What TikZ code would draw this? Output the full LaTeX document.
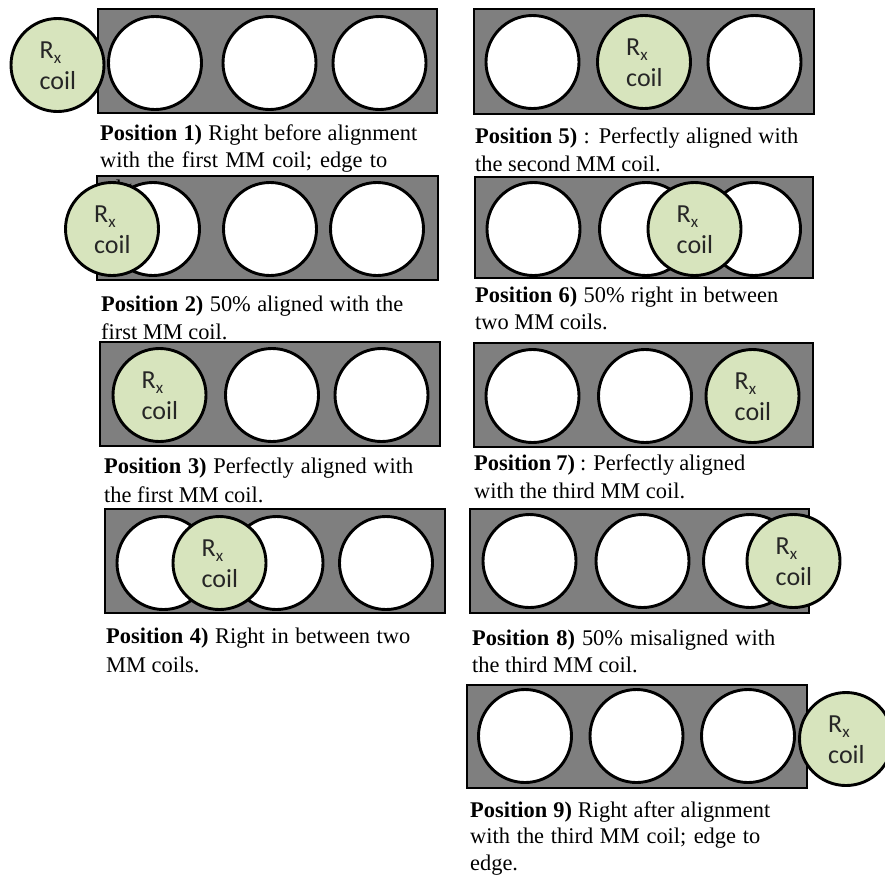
\documentclass[tikz,border=0pt]{standalone}
\usepackage{fontspec}
\setmainfont{Liberation Serif}
\newfontfamily\calib{Carlito}
\definecolor{rxgreen}{HTML}{D7E4BD}
\definecolor{panelgray}{HTML}{7F7F7F}
\newcommand\rxsub{\raisebox{-5pt}{\fontsize{17}{17}\selectfont x}}
\newcommand\mmcoil[2]{\draw[mmcoilst] (#1,#2) circle[radius=46.5pt];}
\newcommand\rxcoil[3]{\draw[rxcoilst] (#2,#3) circle[radius=46.5pt];
  \node[rxlabel] (#1r) at ({#2-18},{#3-7}) {R\rxsub};
  \node[rxlabel] (#1c) at ({#2-18},{#3+24}) {coil};}
\newcommand\panelbox[4]{\draw[panelst] (#1,#2) rectangle (#3,#4);}
\newcommand\jline[2]{\makebox[#1pt][s]{#2}}
\begin{document}
\begin{tikzpicture}[x=1pt,y=-1pt,
  panelst/.style={fill=panelgray,draw=black,line width=2.3pt},
  mmcoilst/.style={fill=white,draw=black,line width=2.9pt},
  rxcoilst/.style={fill=rxgreen,draw=black,line width=2.9pt},
  rxlabel/.style={anchor=base west,inner sep=0pt,text=black!85,font=\calib\fontsize{26}{30}\selectfont},
  captext/.style={anchor=base west,inner sep=0pt,font=\fontsize{22.4}{27}\selectfont}]
\useasboundingbox (0,0) rectangle (885,876);
\clip (0,0) rectangle (885,876);
% panels
\panelbox{98}{9}{437}{113}
\panelbox{97}{176}{438}{280}
\panelbox{100}{342}{440}{446}
\panelbox{105}{509}{445}{613}
\panelbox{474}{9}{814}{114}
\panelbox{475}{177}{813}{278}
\panelbox{474}{343}{813}{447}
\panelbox{470}{509}{809}{613}
\panelbox{467}{685}{807}{788}
% captions
\node[captext] (c1a) at (100,140) {\jline{317}{\textbf{Position 1)} Right before alignment}};
\node[captext] (c1b) at (100,167) {\jline{287}{with the first MM coil; edge to}};
\node[captext] (c1c) at (100,195) {edge.};
\node[captext] (c2a) at (101,311) {\jline{302}{\textbf{Position 2)} 50\% aligned with the}};
\node[captext] (c2b) at (101,339) {first MM coil.};
\node[captext] (c3a) at (104,473) {\jline{309}{\textbf{Position 3)} Perfectly aligned with}};
\node[captext] (c3b) at (104,502) {the first MM coil.};
\node[captext] (c4a) at (106,643) {\jline{304}{\textbf{Position 4)} Right in between two}};
\node[captext] (c4b) at (106,672) {MM coils.};
\node[captext] (c5a) at (475,143) {\jline{323}{\textbf{Position 5)} : Perfectly aligned with}};
\node[captext] (c5b) at (475,171) {the second MM coil.};
\node[captext] (c6a) at (475,302) {\jline{303}{\textbf{Position 6)} 50\% right in between}};
\node[captext] (c6b) at (475,329) {two MM coils.};
\node[captext] (c7a) at (474,470) {\jline{271}{\textbf{Position 7)} : Perfectly aligned}};
\node[captext] (c7b) at (474,498) {with the third MM coil.};
\node[captext] (c8a) at (472,645) {\jline{303}{\textbf{Position 8)} 50\% misaligned with}};
\node[captext] (c8b) at (472,672) {the third MM coil.};
\node[captext] (c9a) at (470,817) {\jline{300}{\textbf{Position 9)} Right after alignment}};
\node[captext] (c9b) at (470,843) {\jline{290}{with the third MM coil; edge to}};
\node[captext] (c9c) at (470,870) {edge.};
% panel 1
\mmcoil{155}{63}\mmcoil{269.5}{63}\mmcoil{379.5}{63}
\rxcoil{rxa}{57.5}{65}
% panel 2
\mmcoil{153}{229}\mmcoil{270}{229}\mmcoil{377}{229}
\rxcoil{rxb}{112}{229}
% panel 3
\mmcoil{272}{395}\mmcoil{381.5}{395}
\rxcoil{rxc}{159.5}{395}
% panel 4
\mmcoil{163.5}{563}\mmcoil{276.5}{563}\mmcoil{386}{563}
\rxcoil{rxd}{219.5}{563}
% panel 5
\mmcoil{532.5}{62}\mmcoil{754.5}{62}
\rxcoil{rxe}{644}{62}
% panel 6
\mmcoil{533.5}{229}\mmcoil{646}{229}\mmcoil{754}{229}
\rxcoil{rxf}{694.5}{229}
% panel 7
\mmcoil{532.5}{396}\mmcoil{645}{396}
\rxcoil{rxg}{752.5}{396}
% panel 8
\mmcoil{529.5}{561}\mmcoil{642.5}{561}\mmcoil{750}{561}
\rxcoil{rxh}{793.5}{561}
% panel 9
\mmcoil{525}{736}\mmcoil{636.5}{736}\mmcoil{748}{736}
\rxcoil{rxi}{846}{739}
\end{tikzpicture}
\end{document}
